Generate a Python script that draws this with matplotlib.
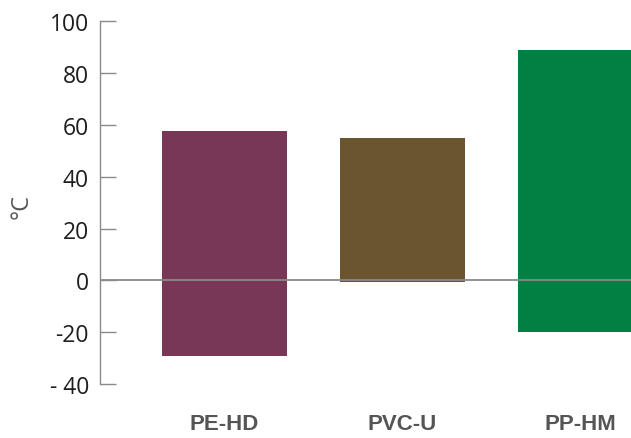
import numpy as np
import matplotlib.pyplot as plt

# operating temperature range per material (°C)
categories = ["PE-HD", "PVC-U", "PP-HM"]
t_min = [-29, -0.5, -20]
t_max = [57.5, 55, 89]
colors = ["#783756", "#6b552e", "#008043"]

y_ticks = [-40, -20, 0, 20, 40, 60, 80, 100]
y_tick_labels = ["- 40", "-20", "0", "20", "40", "60", "80", "100"]


def main():
    fig = plt.figure(figsize=(6.31, 4.39), dpi=100)
    ax = fig.add_axes([100 / 631, 54 / 439, 531 / 631, (385 - 22.3) / 439])

    x = np.arange(len(categories))
    lo = np.array(t_min)
    hi = np.array(t_max)
    ax.bar(x, hi - lo, bottom=lo, width=0.7, color=colors, zorder=2)

    ax.axhline(0, color="#8a8a8a", lw=1.3, zorder=3)

    ax.set_xlim(-0.70, 2.284)
    ax.set_ylim(-40, 100)

    for side in ["top", "right", "bottom"]:
        ax.spines[side].set_visible(False)
    ax.spines["left"].set_color("#8a8a8a")
    ax.spines["left"].set_linewidth(1.0)
    ax.spines["left"].set_bounds(-40, 100)

    ax.set_yticks(y_ticks)
    ax.set_yticklabels(y_tick_labels, fontfamily="Open Sans", fontsize=16.5,
                       color="#1e1e1e")
    ax.tick_params(axis="y", direction="in", length=11.5, width=1.0,
                   color="#8a8a8a", pad=8)

    ax.set_xticks(x)
    ax.set_xticklabels(categories, fontfamily="Liberation Sans",
                       fontweight="bold", fontsize=16, color="#555555")
    ax.tick_params(axis="x", length=0, pad=21)

    fig.text(22 / 631, 1 - 207 / 439, "°C", rotation=90, ha="center",
             va="center", fontfamily="Open Sans", fontsize=17,
             color="#555555")

    fig.savefig("out.png", dpi=100)


if __name__ == "__main__":
    main()
